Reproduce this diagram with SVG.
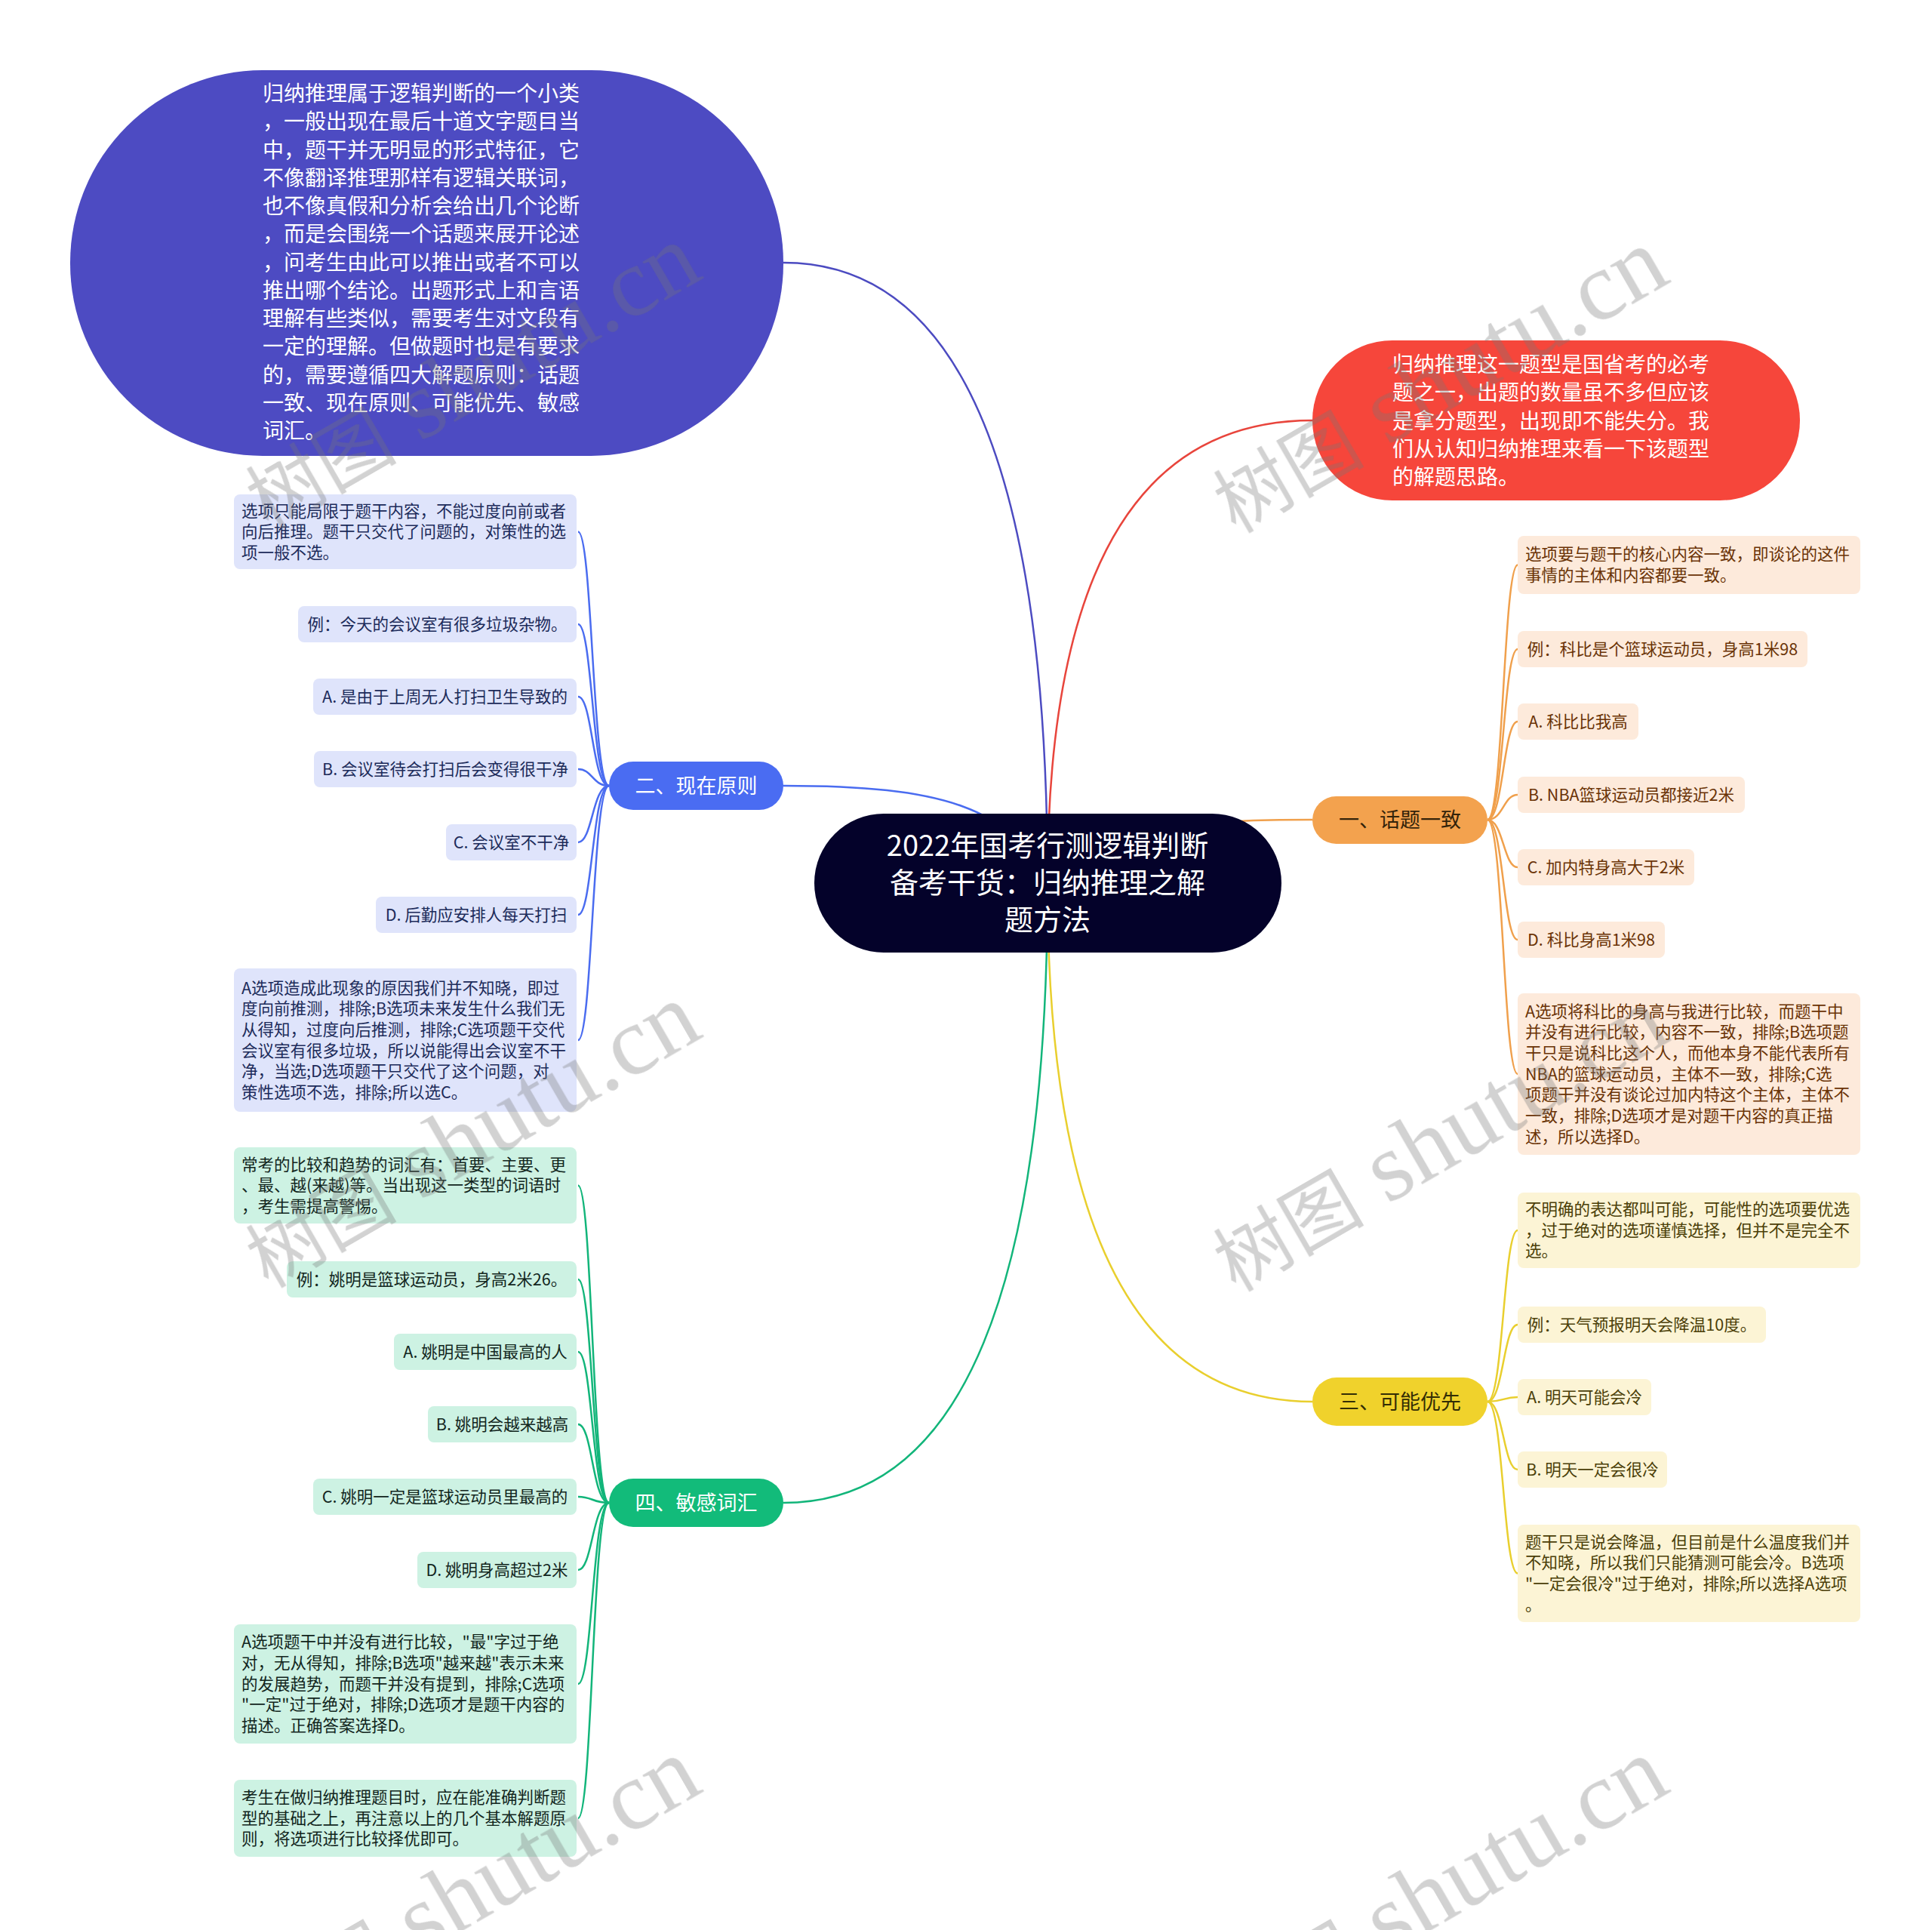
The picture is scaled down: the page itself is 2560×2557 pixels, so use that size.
<svg xmlns="http://www.w3.org/2000/svg" width="2560" height="2557" viewBox="0 0 2560 2557">
<style>
text{font-family:"Noto Sans CJK SC","Noto Sans",sans-serif;}
.big{font-size:28px;fill:#ffffff;}
.ctr{font-size:38px;fill:#ffffff;text-anchor:middle;}
.pill{font-size:27px;text-anchor:middle;}
.leaf{font-size:21.5px;}
.mid{text-anchor:middle;}
.lb rect{fill:#dfe4fb;} .lb text{fill:#1c2b5a;}
.lg rect{fill:#cdf2e3;} .lg text{fill:#12261d;}
.lo rect{fill:#fdeadb;} .lo text{fill:#6a3306;}
.ly rect{fill:#fcf4d5;} .ly text{fill:#4b3f08;}
.c{fill:none;stroke-width:2.5;}
.wm{opacity:0.33;fill:#777777;}
.wmc{font-family:"Noto Sans CJK SC",sans-serif;font-size:100px;}
.wml{font-family:"Liberation Serif",serif;font-size:130px;}
</style>
<rect width="2560" height="2557" fill="#ffffff"/>
<g id="connectors">
<path class="c" stroke="#4c4bc1" d="M1388,1170 Q1388,348 1038,348"/>
<path class="c" stroke="#e8453c" d="M1388,1170 Q1388,557 1739,557"/>
<path class="c" stroke="#f0a04c" d="M1388,1170 C1500,1090 1600,1086 1739,1086"/>
<path class="c" stroke="#e9cf2e" d="M1388,1170 Q1388,1857 1739,1857"/>
<path class="c" stroke="#12b57a" d="M1388,1170 Q1388,1991 1038,1991"/>
<path class="c" stroke="#4a6cf0" d="M1038,1041 C1250,1041 1340,1070 1388,1170"/>
<g stroke="#4a6cf0" class="c">
<path class="c" d="M807,1041 C785,1041 785,704.5 766,704.5"/>
<path class="c" d="M807,1041 C785,1041 785,827 766,827"/>
<path class="c" d="M807,1041 C785,1041 785,923 766,923"/>
<path class="c" d="M807,1041 C785,1041 785,1019 766,1019"/>
<path class="c" d="M807,1041 C785,1041 785,1116 766,1116"/>
<path class="c" d="M807,1041 C785,1041 785,1212 766,1212"/>
<path class="c" d="M807,1041 C785,1041 785,1378 766,1378"/>
</g>
<g stroke="#12b57a" class="c">
<path class="c" d="M807,1991 C785,1991 785,1570.5 766,1570.5"/>
<path class="c" d="M807,1991 C785,1991 785,1695 766,1695"/>
<path class="c" d="M807,1991 C785,1991 785,1791 766,1791"/>
<path class="c" d="M807,1991 C785,1991 785,1887 766,1887"/>
<path class="c" d="M807,1991 C785,1991 785,1983 766,1983"/>
<path class="c" d="M807,1991 C785,1991 785,2080 766,2080"/>
<path class="c" d="M807,1991 C785,1991 785,2231 766,2231"/>
<path class="c" d="M807,1991 C785,1991 785,2409 766,2409"/>
</g>
<g stroke="#f0a04c" class="c">
<path class="c" d="M1971,1086 C1992,1086 1992,748.5 2011,748.5"/>
<path class="c" d="M1971,1086 C1992,1086 1992,860 2011,860"/>
<path class="c" d="M1971,1086 C1992,1086 1992,956 2011,956"/>
<path class="c" d="M1971,1086 C1992,1086 1992,1053 2011,1053"/>
<path class="c" d="M1971,1086 C1992,1086 1992,1149 2011,1149"/>
<path class="c" d="M1971,1086 C1992,1086 1992,1245 2011,1245"/>
<path class="c" d="M1971,1086 C1992,1086 1992,1423 2011,1423"/>
</g>
<g stroke="#e9cf2e" class="c">
<path class="c" d="M1971,1857 C1992,1857 1992,1630 2011,1630"/>
<path class="c" d="M1971,1857 C1992,1857 1992,1755 2011,1755"/>
<path class="c" d="M1971,1857 C1992,1857 1992,1851 2011,1851"/>
<path class="c" d="M1971,1857 C1992,1857 1992,1947 2011,1947"/>
<path class="c" d="M1971,1857 C1992,1857 1992,2084.5 2011,2084.5"/>
</g>
</g>

<g id="root">
<rect x="1079" y="1078" width="619" height="184" rx="92" fill="#04022a"/>
<text class="ctr" x="1388" y="1134">2022年国考行测逻辑判断</text>
<text class="ctr" x="1388" y="1183">备考干货：归纳推理之解</text>
<text class="ctr" x="1388" y="1232">题方法</text>
</g>

<g id="intro-left">
<rect x="93" y="93" width="945" height="511" rx="255" fill="#4d4bc2"/>
<text class="big" x="348" y="134">归纳推理属于逻辑判断的一个小类</text>
<text class="big" x="348" y="171.25">，一般出现在最后十道文字题目当</text>
<text class="big" x="348" y="208.5">中，题干并无明显的形式特征，它</text>
<text class="big" x="348" y="245.75">不像翻译推理那样有逻辑关联词，</text>
<text class="big" x="348" y="283">也不像真假和分析会给出几个论断</text>
<text class="big" x="348" y="320.25">，而是会围绕一个话题来展开论述</text>
<text class="big" x="348" y="357.5">，问考生由此可以推出或者不可以</text>
<text class="big" x="348" y="394.75">推出哪个结论。出题形式上和言语</text>
<text class="big" x="348" y="432">理解有些类似，需要考生对文段有</text>
<text class="big" x="348" y="469.25">一定的理解。但做题时也是有要求</text>
<text class="big" x="348" y="506.5">的，需要遵循四大解题原则：话题</text>
<text class="big" x="348" y="543.75">一致、现在原则、可能优先、敏感</text>
<text class="big" x="348" y="581">词汇。</text>
</g>

<g id="intro-right">
<rect x="1739" y="451" width="646" height="212" rx="106" fill="#f6463b"/>
<text class="big" x="1845" y="493">归纳推理这一题型是国省考的必考</text>
<text class="big" x="1845" y="530.25">题之一，出题的数量虽不多但应该</text>
<text class="big" x="1845" y="567.5">是拿分题型，出现即不能失分。我</text>
<text class="big" x="1845" y="604.75">们从认知归纳推理来看一下该题型</text>
<text class="big" x="1845" y="642">的解题思路。</text>
</g>

<g id="branch-1">
<rect x="1739" y="1055" width="232" height="63" rx="31.5" fill="#f3a24e"/>
<text class="pill" x="1855" y="1096" fill="#33230a">一、话题一致</text>
</g>
<g id="branch-2">
<rect x="807" y="1009" width="231" height="64" rx="32" fill="#4a6cf2"/>
<text class="pill" x="922.5" y="1050.5" fill="#ffffff">二、现在原则</text>
</g>
<g id="branch-3">
<rect x="1739" y="1825" width="232" height="64" rx="32" fill="#f0d22c"/>
<text class="pill" x="1855" y="1866.5" fill="#332d05">三、可能优先</text>
</g>
<g id="branch-4">
<rect x="807" y="1959" width="231" height="64" rx="32" fill="#12bb7a"/>
<text class="pill" x="922.5" y="2000.5" fill="#ffffff">四、敏感词汇</text>
</g>

<g class="lb leaf">
<g id="b2-1"><rect x="310" y="655" width="454" height="99" rx="8"/>
<text x="320" y="684.5">选项只能局限于题干内容，不能过度向前或者</text>
<text x="320" y="712.2">向后推理。题干只交代了问题的，对策性的选</text>
<text x="320" y="739.9">项一般不选。</text></g>
<g id="b2-2"><rect x="395" y="803" width="369" height="48" rx="8"/><text class="mid" x="579.5" y="834.7">例：今天的会议室有很多垃圾杂物。</text></g>
<g id="b2-3"><rect x="415" y="899" width="349" height="48" rx="8"/><text class="mid" x="589.5" y="930.7">A. 是由于上周无人打扫卫生导致的</text></g>
<g id="b2-4"><rect x="416" y="995" width="348" height="48" rx="8"/><text class="mid" x="590" y="1026.7">B. 会议室待会打扫后会变得很干净</text></g>
<g id="b2-5"><rect x="591" y="1092" width="173" height="48" rx="8"/><text class="mid" x="677.5" y="1123.7">C. 会议室不干净</text></g>
<g id="b2-6"><rect x="498" y="1188" width="266" height="48" rx="8"/><text class="mid" x="631" y="1219.7">D. 后勤应安排人每天打扫</text></g>
<g id="b2-7"><rect x="310" y="1283" width="454" height="190" rx="8"/>
<text x="320" y="1316.5">A选项造成此现象的原因我们并不知晓，即过</text>
<text x="320" y="1344.2">度向前推测，排除;B选项未来发生什么我们无</text>
<text x="320" y="1371.9">从得知，过度向后推测，排除;C选项题干交代</text>
<text x="320" y="1399.6">会议室有很多垃圾，所以说能得出会议室不干</text>
<text x="320" y="1427.3">净，当选;D选项题干只交代了这个问题，对</text>
<text x="320" y="1455">策性选项不选，排除;所以选C。</text></g>
</g>

<g class="lg leaf">
<g id="b4-1"><rect x="310" y="1520" width="454" height="101" rx="8"/>
<text x="320" y="1550.5">常考的比较和趋势的词汇有：首要、主要、更</text>
<text x="320" y="1578.2">、最、越(来越)等。当出现这一类型的词语时</text>
<text x="320" y="1605.9">，考生需提高警惕。</text></g>
<g id="b4-2"><rect x="380" y="1671" width="384" height="48" rx="8"/><text class="mid" x="572" y="1702.7">例：姚明是篮球运动员，身高2米26。</text></g>
<g id="b4-3"><rect x="522" y="1767" width="242" height="48" rx="8"/><text class="mid" x="643" y="1798.7">A. 姚明是中国最高的人</text></g>
<g id="b4-4"><rect x="567" y="1863" width="197" height="48" rx="8"/><text class="mid" x="665.5" y="1894.7">B. 姚明会越来越高</text></g>
<g id="b4-5"><rect x="415" y="1959" width="349" height="48" rx="8"/><text class="mid" x="589.5" y="1990.7">C. 姚明一定是篮球运动员里最高的</text></g>
<g id="b4-6"><rect x="553" y="2056" width="211" height="48" rx="8"/><text class="mid" x="658.5" y="2087.7">D. 姚明身高超过2米</text></g>
<g id="b4-7"><rect x="310" y="2152" width="454" height="158" rx="8"/>
<text x="320" y="2183.3">A选项题干中并没有进行比较，"最"字过于绝</text>
<text x="320" y="2211">对，无从得知，排除;B选项"越来越"表示未来</text>
<text x="320" y="2238.7">的发展趋势，而题干并没有提到，排除;C选项</text>
<text x="320" y="2266.4">"一定"过于绝对，排除;D选项才是题干内容的</text>
<text x="320" y="2294.1">描述。正确答案选择D。</text></g>
<g id="b4-8"><rect x="310" y="2358" width="454" height="102" rx="8"/>
<text x="320" y="2389">考生在做归纳推理题目时，应在能准确判断题</text>
<text x="320" y="2416.7">型的基础之上，再注意以上的几个基本解题原</text>
<text x="320" y="2444.4">则，将选项进行比较择优即可。</text></g>
</g>

<g class="lo leaf">
<g id="b1-1"><rect x="2011" y="710" width="454" height="77" rx="8"/>
<text x="2021" y="742.4">选项要与题干的核心内容一致，即谈论的这件</text>
<text x="2021" y="770.1">事情的主体和内容都要一致。</text></g>
<g id="b1-2"><rect x="2011" y="836" width="384" height="48" rx="8"/><text class="mid" x="2203" y="867.7">例：科比是个篮球运动员，身高1米98</text></g>
<g id="b1-3"><rect x="2011" y="932" width="160" height="48" rx="8"/><text class="mid" x="2091" y="963.7">A. 科比比我高</text></g>
<g id="b1-4"><rect x="2011" y="1029" width="301" height="48" rx="8"/><text class="mid" x="2161.5" y="1060.7">B. NBA篮球运动员都接近2米</text></g>
<g id="b1-5"><rect x="2011" y="1125" width="234" height="48" rx="8"/><text class="mid" x="2128" y="1156.7">C. 加内特身高大于2米</text></g>
<g id="b1-6"><rect x="2011" y="1221" width="195" height="48" rx="8"/><text class="mid" x="2108.5" y="1252.7">D. 科比身高1米98</text></g>
<g id="b1-7"><rect x="2011" y="1316" width="454" height="214" rx="8"/>
<text x="2021" y="1347.6">A选项将科比的身高与我进行比较，而题干中</text>
<text x="2021" y="1375.3">并没有进行比较，内容不一致，排除;B选项题</text>
<text x="2021" y="1403">干只是说科比这个人，而他本身不能代表所有</text>
<text x="2021" y="1430.7">NBA的篮球运动员，主体不一致，排除;C选</text>
<text x="2021" y="1458.4">项题干并没有谈论过加内特这个主体，主体不</text>
<text x="2021" y="1486.1">一致，排除;D选项才是对题干内容的真正描</text>
<text x="2021" y="1513.8">述，所以选择D。</text></g>
</g>

<g class="ly leaf">
<g id="b3-1"><rect x="2011" y="1580" width="454" height="100" rx="8"/>
<text x="2021" y="1610">不明确的表达都叫可能，可能性的选项要优选</text>
<text x="2021" y="1637.7">，过于绝对的选项谨慎选择，但并不是完全不</text>
<text x="2021" y="1665.4">选。</text></g>
<g id="b3-2"><rect x="2011" y="1731" width="329" height="48" rx="8"/><text class="mid" x="2175.5" y="1762.7">例：天气预报明天会降温10度。</text></g>
<g id="b3-3"><rect x="2011" y="1827" width="177" height="48" rx="8"/><text class="mid" x="2099.5" y="1858.7">A. 明天可能会冷</text></g>
<g id="b3-4"><rect x="2011" y="1923" width="198" height="48" rx="8"/><text class="mid" x="2110" y="1954.7">B. 明天一定会很冷</text></g>
<g id="b3-5"><rect x="2011" y="2020" width="454" height="129" rx="8"/>
<text x="2021" y="2050.7">题干只是说会降温，但目前是什么温度我们并</text>
<text x="2021" y="2078.4">不知晓，所以我们只能猜测可能会冷。B选项</text>
<text x="2021" y="2106.1">"一定会很冷"过于绝对，排除;所以选择A选项</text>
<text x="2021" y="2133.8">。</text></g>
</g>

<g id="watermarks" class="wm">
<text transform="translate(645,535) rotate(-30)" text-anchor="middle"><tspan class="wmc">树图</tspan><tspan class="wml"> shutu.cn</tspan></text>
<text transform="translate(1927,540) rotate(-30)" text-anchor="middle"><tspan class="wmc">树图</tspan><tspan class="wml"> shutu.cn</tspan></text>
<text transform="translate(645,1540) rotate(-30)" text-anchor="middle"><tspan class="wmc">树图</tspan><tspan class="wml"> shutu.cn</tspan></text>
<text transform="translate(1927,1545) rotate(-30)" text-anchor="middle"><tspan class="wmc">树图</tspan><tspan class="wml"> shutu.cn</tspan></text>
<text transform="translate(645,2540) rotate(-30)" text-anchor="middle"><tspan class="wmc">树图</tspan><tspan class="wml"> shutu.cn</tspan></text>
<text transform="translate(1927,2540) rotate(-30)" text-anchor="middle"><tspan class="wmc">树图</tspan><tspan class="wml"> shutu.cn</tspan></text>
</g>
</svg>
